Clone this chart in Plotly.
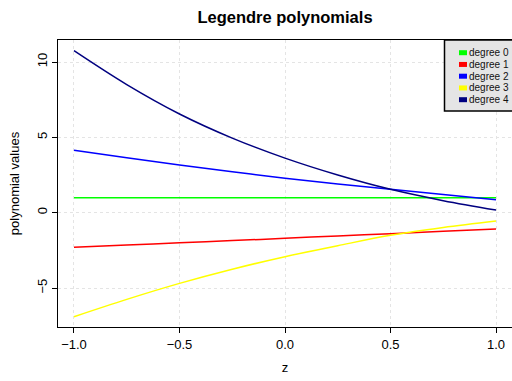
import plotly.graph_objects as go

# ---- data ----
z = [-1.0, -0.75, -0.5, -0.25, 0.0, 0.25, 0.5, 0.75, 1.0]
deg0 = [1.0, 1.0, 1.0, 1.0, 1.0, 1.0, 1.0, 1.0, 1.0]
deg1 = [-2.30, -2.15, -2.00, -1.85, -1.70, -1.54, -1.39, -1.23, -1.08]
deg2 = [4.15, 3.65, 3.17, 2.72, 2.28, 1.90, 1.55, 1.20, 0.86]
deg3 = [-6.90, -5.75, -4.69, -3.75, -2.92, -2.19, -1.50, -0.98, -0.55]
deg4 = [10.75, 8.50, 6.55, 4.95, 3.62, 2.50, 1.55, 0.80, 0.18]
names = ["degree 0", "degree 1", "degree 2", "degree 3", "degree 4"]
colors = ["#00FF00", "#FF0000", "#0000FF", "#FFFF00", "#000080"]
series = [deg0, deg1, deg2, deg3, deg4]
xticks = [-1.0, -0.5, 0.0, 0.5, 1.0]
yticks = [-5, 0, 5, 10]

W, H = 512, 381
L, R, T, B = 58, 0, 40, 54
pw, ph = W - L - R, H - T - B

fig = go.Figure()
for ys, nm, c in zip(series, names, colors):
    fig.add_trace(go.Scatter(x=z, y=ys, mode="lines", name=nm,
                             line=dict(color=c, width=1.5, shape="spline"),
                             showlegend=False))

def px2x(p):
    return (p - L) / pw

def py2y(p):
    return (H - B - p) / ph

shapes = []
annotations = []
# legend box
shapes.append(dict(type="rect", xref="paper", yref="paper",
                   x0=px2x(444.5), x1=px2x(514), y0=py2y(111), y1=py2y(40),
                   fillcolor="#e5e5e5", line=dict(color="black", width=1.5)))
for i, (nm, c) in enumerate(zip(names, colors)):
    cy = 52.7 + i * 11.75
    shapes.append(dict(type="rect", xref="paper", yref="paper",
                       x0=px2x(459), x1=px2x(467), y0=py2y(cy + 2.5), y1=py2y(cy - 2.5),
                       fillcolor=c, line=dict(width=0)))
    annotations.append(dict(text=nm, xref="paper", yref="paper",
                            x=px2x(466.5), y=py2y(cy), xanchor="left", yanchor="middle",
                            showarrow=False, font=dict(size=10, color="#111111",
                                                       family="Liberation Sans, Arial")))

fig.update_layout(
    width=W, height=H,
    margin=dict(l=L, r=R, t=T, b=B),
    paper_bgcolor="white", plot_bgcolor="white",
    font=dict(family="Liberation Sans, Arial", size=13, color="black"),
    title=dict(text="<b>Legendre polynomials</b>", x=0.5, xref="paper", xanchor="center",
               y=1 - 17 / H, yanchor="middle", font=dict(size=16.5)),
    shapes=shapes, annotations=annotations,
)
fig.update_xaxes(range=[-1.0758, 1.0758], tickvals=xticks, tickformat=".1f",
                 showgrid=True, gridcolor="#e4e4e4", griddash="dot", gridwidth=1,
                 zeroline=False, showline=True, linecolor="black", linewidth=1.2,
                 mirror=True, ticks="outside", ticklen=5, tickcolor="black",
                 tickfont=dict(size=13),
                 title=dict(text="z", standoff=12, font=dict(size=13)))
fig.update_yaxes(range=[-7.585, 11.46], tickvals=yticks,
                 showgrid=True, gridcolor="#e4e4e4", griddash="dot", gridwidth=1,
                 zeroline=False, showline=True, linecolor="black", linewidth=1.2,
                 ticks="outside", ticklen=5, tickcolor="black", tickangle=-90,
                 tickfont=dict(size=13),
                 title=dict(text="polynomial values", standoff=12, font=dict(size=13)))

fig.write_html("out.html")
